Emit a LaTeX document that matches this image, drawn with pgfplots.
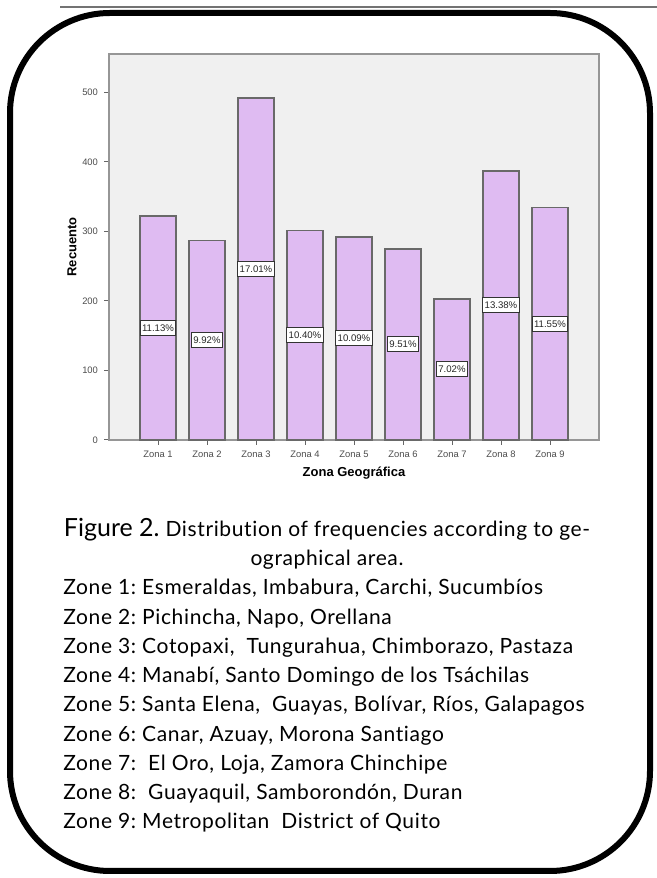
\documentclass[border=0pt]{standalone}
\usepackage{fontspec}
\setmainfont{Liberation Sans}
\newfontfamily\capfont[LetterSpace=3, Ligatures={NoCommon,NoRare,NoContextual}]{Lato}
\newfontfamily\figfont{Lato}
\usepackage{pgfplots}
\pgfplotsset{compat=1.18}
\definecolor{barfill}{RGB}{223,187,242}
\definecolor{panel}{RGB}{240,240,240}
\definecolor{axisgray}{RGB}{150,150,150}
\definecolor{barline}{RGB}{105,105,105}
\begin{document}
\frenchspacing
\begin{tikzpicture}[x=1pt,y=1pt]
\useasboundingbox (0,0) rectangle (328.5,439);
\draw[black!55, line width=1pt] (30,435.5) -- (328.5,435.5);
\draw[line width=3pt, rounded corners=50pt] (5,432.5) rectangle (325,3.5);
\begin{axis}[
  at={(54.5pt,219pt)}, anchor=south west,
  scale only axis, width=245pt, height=193pt,
  xmin=0, xmax=10, ymin=0, ymax=555,
  axis background/.style={fill=panel},
  axis line style={draw=axisgray, line width=0.9pt},
  xtick={1,2,3,4,5,6,7,8,9},
  xticklabels={Zona 1,Zona 2,Zona 3,Zona 4,Zona 5,Zona 6,Zona 7,Zona 8,Zona 9},
  ytick={0,100,200,300,400,500},
  /pgf/number format/assume math mode=true,
  tick align=outside, tick pos=left,
  major tick length=2.5pt,
  tick style={draw=black!60, line width=0.5pt},
  ticklabel style={font=\fontsize{4.7}{5}\selectfont, text=black!70},
  yticklabel style={xshift=0.5pt},
  xticklabel style={yshift=0.5pt},
  ylabel={Recuento}, xlabel={Zona Geográfica},
  label style={font=\bfseries\fontsize{6.5}{7}\selectfont},
  ylabel style={at={(axis description cs:-0.0755,0.5)}, anchor=center},
  xlabel style={at={(axis description cs:0.5,-0.0855)}, anchor=center},
  clip=false,
]
\addplot[ybar, bar width=0.735, fill=barfill, draw=barline, line width=0.8pt]
  coordinates {(1,322) (2,287) (3,492) (4,301) (5,292) (6,275) (7,203) (8,387) (9,334)};
\addplot[draw=none, mark=none, point meta=explicit symbolic,
  nodes near coords={\pgfplotspointmeta\%},
  nodes near coords style={anchor=center, fill=white, draw=black!80, line width=0.5pt,
    text=black!85, font=\fontsize{4.8}{5}\selectfont, inner xsep=1pt, inner ysep=0pt,
    minimum height=7.5pt}]
  table[x=x, y=y, meta=lab] {
x y lab
1 161 11.13
2 143.5 9.92
3 246 17.01
4 150.5 10.40
5 146 10.09
6 137.5 9.51
7 101.5 7.02
8 193.5 13.38
9 167 11.55
};
\end{axis}
\begin{scope}[every node/.style={inner sep=0pt}, capfont/.style={font=\capfont\fontsize{10.5}{12}\selectfont}]
\node[anchor=base, capfont] at (163.5,170.5) {{\figfont\fontsize{12.5}{14}\selectfont Figure 2.} Distribution of frequencies according to ge-};
\node[anchor=base, capfont] at (163.5,156) {ographical area.};
\node[anchor=base west, capfont] at (31.5,141.5) {Zone 1: Esmeraldas, Imbabura, Carchi, Sucumbíos};
\node[anchor=base west, capfont] at (31.5,126.875) {Zone 2: Pichincha, Napo, Orellana};
\node[anchor=base west, capfont] at (31.5,112.25) {Zone 3: Cotopaxi, \ Tungurahua, Chimborazo, Pastaza};
\node[anchor=base west, capfont] at (31.5,97.625) {Zone 4: Manabí, Santo Domingo de los Tsáchilas};
\node[anchor=base west, capfont] at (31.5,83) {Zone 5: Santa Elena, \ Guayas, Bolívar, Ríos, Galapagos};
\node[anchor=base west, capfont] at (31.5,68.375) {Zone 6: Canar, Azuay, Morona Santiago};
\node[anchor=base west, capfont] at (31.5,53.75) {Zone 7: \ El Oro, Loja, Zamora Chinchipe};
\node[anchor=base west, capfont] at (31.5,39.125) {Zone 8: \ Guayaquil, Samborondón, Duran};
\node[anchor=base west, capfont] at (31.5,24.5) {Zone 9: Metropolitan \ District of Quito};
\end{scope}
\end{tikzpicture}
\end{document}
